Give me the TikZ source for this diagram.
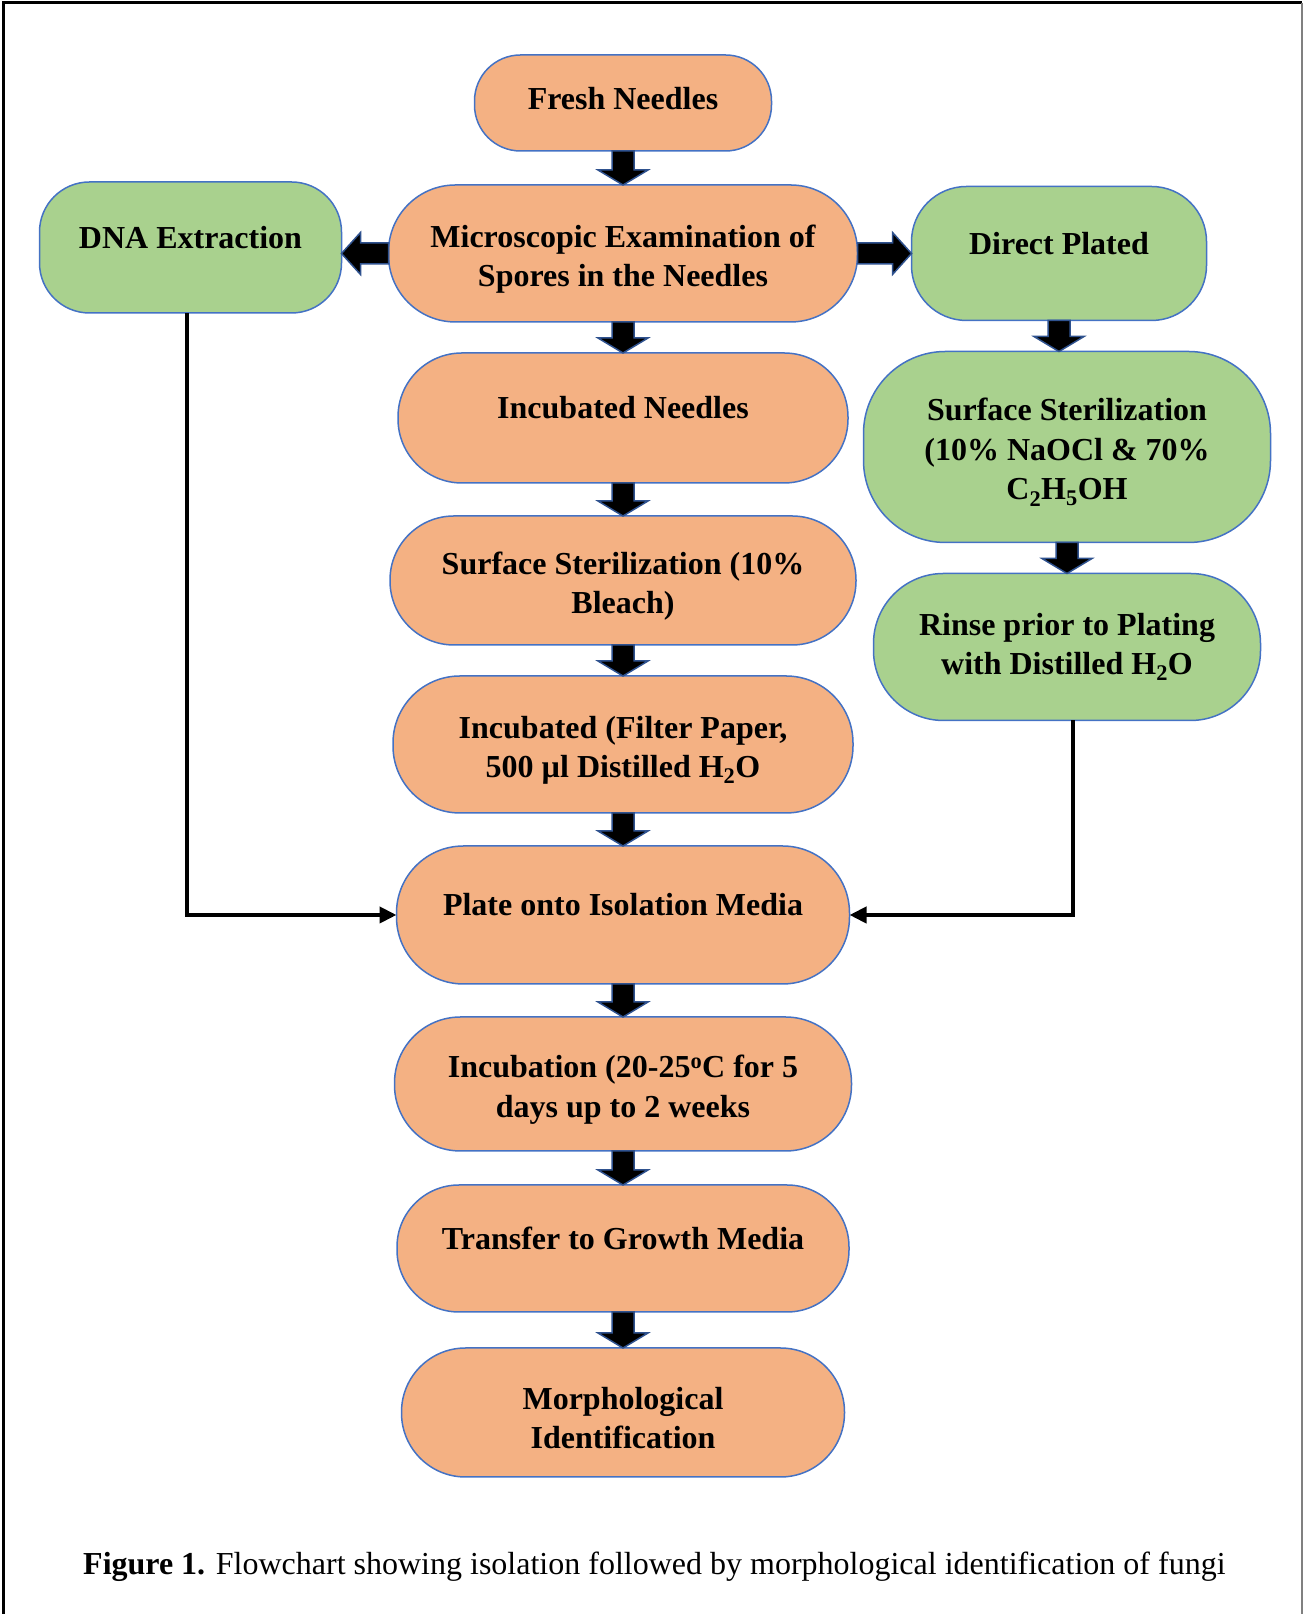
\documentclass[tikz,border=0pt]{standalone}
\usepackage{fontspec}
\setmainfont{Liberation Serif}
\usetikzlibrary{positioning}
\usetikzlibrary{calc}
\usetikzlibrary{arrows.meta}

\definecolor{boxorange}{HTML}{F4B183}
\definecolor{boxgreen}{HTML}{A9D18E}
\definecolor{boxline}{HTML}{4472C4}
\definecolor{arrowline}{HTML}{2F528F}

% block arrows between two boxes
\newcommand{\downblock}[2]{%
  \filldraw[blockarrow] let \p1=(#1.south), \p2=(#2.north) in
    (\x1-11pt,\y1) -- (\x1+11pt,\y1) -- (\x1+11pt,\y2+15pt) -- (\x1+25pt,\y2+15pt)
    -- (\x1,\y2) -- (\x1-25pt,\y2+15pt) -- (\x1-11pt,\y2+15pt) -- cycle;}
\newcommand{\leftblock}[2]{%
  \filldraw[blockarrow] let \p1=(#1.west), \p2=(#2.east) in
    (\x1,\y1+10.5pt) -- (\x2+19pt,\y1+10.5pt) -- (\x2+19pt,\y1+21pt) -- (\x2,\y1)
    -- (\x2+19pt,\y1-21pt) -- (\x2+19pt,\y1-10.5pt) -- (\x1,\y1-10.5pt) -- cycle;}
\newcommand{\rightblock}[2]{%
  \filldraw[blockarrow] let \p1=(#1.east), \p2=(#2.west) in
    (\x1,\y1+10.5pt) -- (\x2-19pt,\y1+10.5pt) -- (\x2-19pt,\y1+21pt) -- (\x2,\y1)
    -- (\x2-19pt,\y1-21pt) -- (\x2-19pt,\y1-10.5pt) -- (\x1,\y1-10.5pt) -- cycle;}

\begin{document}
\begin{tikzpicture}[x=1pt,y=1pt]
        \tikzset{
          box/.style={
            draw=boxline,
            line width=1.5pt,
            rounded corners=#1,
            align=center,
            inner sep=0pt,
            outer sep=0pt,
            font=\bfseries\fontsize{32}{39.5}\selectfont,
          },
          mainbox/.style={box=#1, fill=boxorange},
          mainbox/.default=64pt,
          sidebox/.style={box=#1, fill=boxgreen},
          sidebox/.default=55pt,
          oneline/.style={text height=22pt, text depth=20pt},
          lowered/.style={text height=#1},
          lowered/.default=73pt,
          blockarrow/.style={fill=black, draw=arrowline, line width=1.5pt, line join=miter},
          elbow/.style={line width=4pt, -{Triangle[length=17pt,width=16pt]}},
        }
        \useasboundingbox (0,0) rectangle (1304,1614);
        \draw[line width=3pt] (3,0) -- (3,1611) -- (1302,1611);
        \draw[gray, line width=1.5pt] (1302,1611) -- (1302,0);

        \node[mainbox=46pt, minimum width=297pt, minimum height=96pt,
          text height=22pt, text depth=8pt] (fresh) at (623,1511) {Fresh Needles};
        \node[mainbox=67pt, minimum width=469pt, minimum height=137pt, lowered,
          below=34pt of fresh] (micro) {Microscopic Examination of\\Spores in the Needles};
        \node[mainbox, minimum width=450pt, minimum height=130pt, oneline,
          below=31pt of micro] (incneedles) {Incubated Needles};
        \node[mainbox, minimum width=466pt, minimum height=129pt, lowered,
          below=33pt of incneedles] (sterbleach) {Surface Sterilization (10\%\\Bleach)};
        \node[mainbox=67pt, minimum width=460pt, minimum height=137pt, lowered,
          below=31pt of sterbleach] (filter) {Incubated (Filter Paper,\\500 µl Distilled H\textsubscript{2}O};
        \node[mainbox=67pt, minimum width=453pt, minimum height=138pt, oneline,
          below=33pt of filter] (plate) {Plate onto Isolation Media};
        \node[mainbox=66pt, minimum width=457pt, minimum height=134pt, lowered,
          below=33pt of plate] (incubation) {Incubation (20-25\textsuperscript{o}C for 5\\days up to 2 weeks};
        \node[mainbox=62pt, minimum width=452pt, minimum height=127pt, oneline,
          below=34pt of incubation] (transfer) {Transfer to Growth Media};
        \node[mainbox, minimum width=443pt, minimum height=129pt, lowered,
          below=36pt of transfer] (morph) {Morphological\\Identification};

        \node[sidebox=50pt, minimum width=302pt, minimum height=131pt, oneline,
          left=47pt of micro, yshift=6pt] (dna) {DNA Extraction};
        \node[sidebox, minimum width=295pt, minimum height=134pt, oneline,
          right=54pt of micro] (direct) {Direct Plated};
        \node[sidebox=82pt, minimum width=407pt, minimum height=191pt, lowered=112pt,
          below=31pt of direct, xshift=8pt] (stergreen)
          {Surface Sterilization\\(10\% NaOCl \& 70\%\\C\textsubscript{2}H\textsubscript{5}OH};
        \node[sidebox=70pt, minimum width=387pt, minimum height=147pt,
          below=31pt of stergreen] (rinse) {Rinse prior to Plating\\with Distilled H\textsubscript{2}O};

        \node[anchor=base west, inner sep=0pt, font=\fontsize{32}{38}\selectfont] (caption) at (83,39)
          {\textbf{Figure 1.} Flowchart showing isolation followed by morphological identification of fungi};

        \downblock{fresh}{micro}
        \downblock{micro}{incneedles}
        \downblock{incneedles}{sterbleach}
        \downblock{sterbleach}{filter}
        \downblock{filter}{plate}
        \downblock{plate}{incubation}
        \downblock{incubation}{transfer}
        \downblock{transfer}{morph}
        \downblock{direct}{stergreen}
        \downblock{stergreen}{rinse}
        \leftblock{micro}{dna}
        \rightblock{micro}{direct}

        \draw[elbow] ([xshift=-4pt]dna.south) |- (plate.west);
        \draw[elbow] ([xshift=6pt]rinse.south) |- (plate.east);
      \end{tikzpicture}
\end{document}
